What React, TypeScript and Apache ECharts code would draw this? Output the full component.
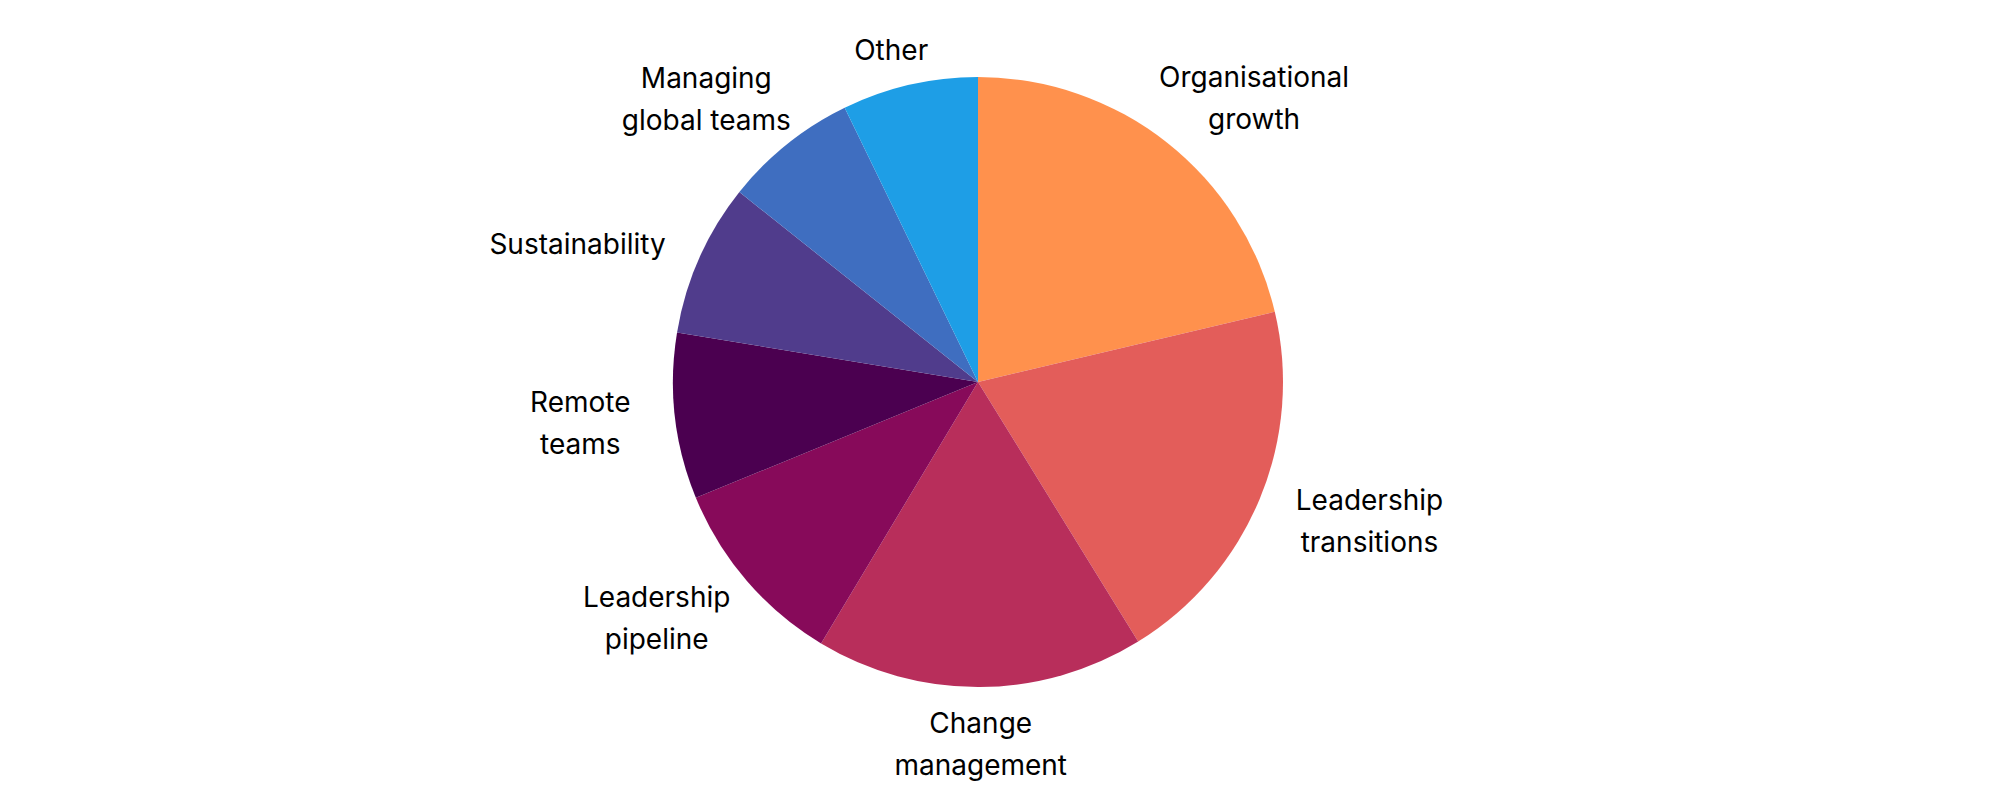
import React, { useEffect, useRef } from "react";
import * as echarts from "echarts";

const categories = [
  "Organisational\ngrowth",
  "Leadership\ntransitions",
  "Change\nmanagement",
  "Leadership\npipeline",
  "Remote\nteams",
  "Sustainability",
  "Managing\nglobal teams",
  "Other",
];
const values = [21.3, 19.9, 17.4, 10.2, 8.8, 8.1, 7.1, 7.2];
const colors = [
  "#FF914D",
  "#E35D5A",
  "#B82E5B",
  "#870A5A",
  "#4B0050",
  "#503C8C",
  "#3F6EC0",
  "#1E9EE6",
];

const CX = 978;
const CY = 382;
const R = 305;
const LABEL_RX = R + 45;
const LABEL_RY = R + 15;

export default function App() {
  const ref = useRef<HTMLDivElement>(null);
  useEffect(() => {
    document.body.style.margin = "0";
    if (!ref.current) return;
    const chart = echarts.init(ref.current, undefined, { renderer: "svg" });
    chart.setOption({
      animation: false,
      backgroundColor: "#ffffff",
      color: colors,
      series: [
        {
          type: "pie",
          center: [CX, CY],
          radius: R,
          startAngle: 90,
          clockwise: true,
          avoidLabelOverlap: false,
          data: categories.map((name, i) => ({ name, value: values[i] })),
          itemStyle: { borderWidth: 0 },
          label: {
            show: true,
            position: "outside",
            formatter: "{b}",
            fontFamily: "Inter",
            fontSize: 28,
            lineHeight: 42,
            color: "#000000",
          },
          labelLine: {
            show: true,
            length: 14,
            length2: 0,
            lineStyle: { opacity: 0, width: 0 },
          },
          labelLayout: (params: any) => {
            const pts = params.labelLinePoints;
            const r = params.labelRect;
            if (!pts || pts.length < 2) return {};
            const dx0 = pts[1][0] - pts[0][0];
            const dy0 = pts[1][1] - pts[0][1];
            const len = Math.sqrt(dx0 * dx0 + dy0 * dy0) || 1;
            const dx = dx0 / len;
            const dy = dy0 / len;
            const px = CX + dx * LABEL_RX;
            const py = CY + dy * LABEL_RY;
            return {
              x: px + (dx * r.width) / 2,
              y: py + (dy * r.height) / 2,
              align: "center",
              verticalAlign: "middle",
            };
          },
        },
      ],
    });
    return () => chart.dispose();
  }, []);
  return <div ref={ref} style={{ width: 2010, height: 800 }} />;
}
